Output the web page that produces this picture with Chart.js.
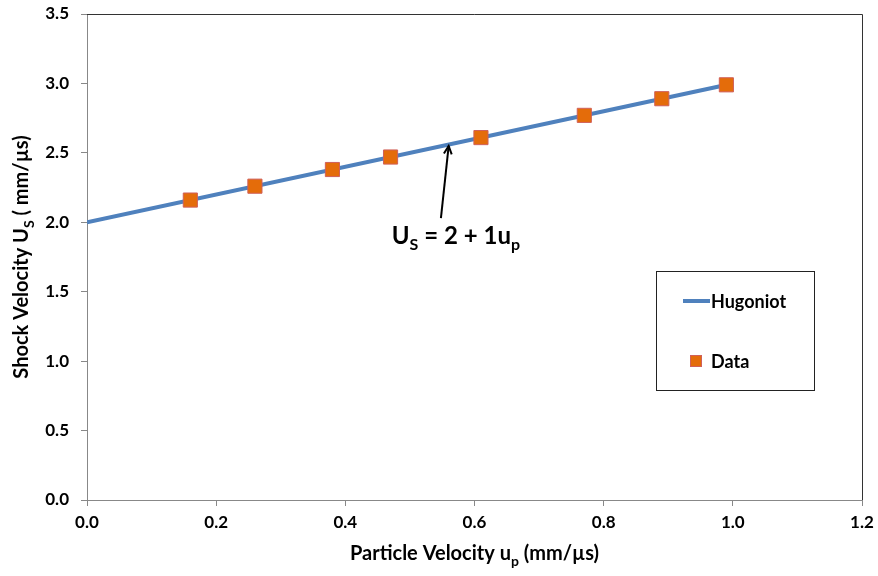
<!DOCTYPE html>
<html><head><meta charset="utf-8">
<script src="https://cdn.jsdelivr.net/npm/chart.js@4"></script>
<style>html,body{margin:0;padding:0;background:#fff}#wrap{width:878px;height:576px;position:relative}</style>
</head><body><div id="wrap"><canvas id="c" width="878" height="576"></canvas></div>
<script>
const xTicks = [0.0, 0.2, 0.4, 0.6, 0.8, 1.0, 1.2];
const yTicks = [0.0, 0.5, 1.0, 1.5, 2.0, 2.5, 3.0, 3.5];
const hugoniotX = [0.0, 1.0];
const hugoniotY = [2.0, 3.0];
const dataX = [0.16, 0.26, 0.38, 0.47, 0.61, 0.77, 0.89, 0.99];
const dataY = [2.16, 2.26, 2.38, 2.47, 2.61, 2.77, 2.89, 2.99];
const arrowTip = [0.56, 2.55];
const arrowBase = [0.548, 2.03];

const FONT = "Lato, 'Open Sans', sans-serif";
const BLUE = '#4F81BD';
const ORANGE = '#E46C0A';

function drawSub(ctx, parts, x, y, align) {
  let total = 0;
  const widths = parts.map(p => { ctx.font = p.sub ? p.subFont : p.font; const w = ctx.measureText(p.t).width; total += w; return w; });
  let cx = align === 'center' ? x - total / 2 : x;
  ctx.textAlign = 'left';
  ctx.textBaseline = 'alphabetic';
  parts.forEach((p, i) => {
    ctx.font = p.sub ? p.subFont : p.font;
    ctx.fillText(p.t, cx, y + (p.sub ? p.off : 0));
    cx += widths[i];
  });
}

const overlay = {
  id: 'overlay',
  beforeDatasetsDraw(chart) {
    const ctx = chart.ctx, a = chart.chartArea;
    ctx.save();
    ctx.strokeStyle = '#333';
    ctx.lineWidth = 1;
    ctx.beginPath();
    ctx.moveTo(a.left, a.top + 0.5); ctx.lineTo(a.right + 0.5, a.top + 0.5); ctx.lineTo(a.right + 0.5, a.bottom);
    ctx.stroke();
    ctx.restore();
  },
  afterDraw(chart) {
    const ctx = chart.ctx, a = chart.chartArea;
    const xs = chart.scales.x, ys = chart.scales.y;
    ctx.save();
    ctx.fillStyle = '#000';
    const f = "bold 20px " + FONT, fs = "bold 14px " + FONT;
    // x title
    drawSub(ctx, [
      {t: 'Particle Velocity u', font: f},
      {t: 'p', sub: true, subFont: fs, off: 6},
      {t: ' (mm/\u00b5s)', font: f}
    ], (a.left + a.right) / 2, 560, 'center');
    // y title
    ctx.save();
    ctx.translate(28, (a.top + a.bottom) / 2);
    ctx.rotate(-Math.PI / 2);
    drawSub(ctx, [
      {t: 'Shock Velocity U', font: f},
      {t: 'S', sub: true, subFont: fs, off: 6},
      {t: ' ( mm/\u00b5s)', font: f}
    ], 0, 0, 'center');
    ctx.restore();
    // arrow
    const tx = xs.getPixelForValue(arrowTip[0]), ty = ys.getPixelForValue(arrowTip[1]);
    const bx = xs.getPixelForValue(arrowBase[0]), by = ys.getPixelForValue(arrowBase[1]);
    ctx.strokeStyle = '#000'; ctx.lineWidth = 2;
    ctx.beginPath(); ctx.moveTo(bx, by); ctx.lineTo(tx, ty); ctx.stroke();
    const ang = Math.atan2(ty - by, tx - bx);
    ctx.beginPath();
    ctx.moveTo(tx - 9 * Math.cos(ang - 0.45), ty - 9 * Math.sin(ang - 0.45));
    ctx.lineTo(tx, ty);
    ctx.lineTo(tx - 9 * Math.cos(ang + 0.45), ty - 9 * Math.sin(ang + 0.45));
    ctx.stroke();
    // equation
    const ef = "bold 24px " + FONT, efs = "bold 16px " + FONT;
    drawSub(ctx, [
      {t: 'U', font: ef},
      {t: 'S', sub: true, subFont: efs, off: 6},
      {t: ' = 2 + 1u', font: ef},
      {t: 'p', sub: true, subFont: efs, off: 6}
    ], bx + 15, by + 26, 'center');
    // legend
    const lx = 656, ly = 271, lw = 158, lh = 119;
    ctx.strokeStyle = '#222'; ctx.lineWidth = 1;
    ctx.strokeRect(lx + 0.5, ly + 0.5, lw, lh);
    ctx.strokeStyle = BLUE; ctx.lineWidth = 4;
    ctx.beginPath(); ctx.moveTo(683, 301); ctx.lineTo(710, 301); ctx.stroke();
    ctx.font = "bold 18px " + FONT; ctx.fillStyle = '#000'; ctx.textBaseline = 'middle'; ctx.textAlign = 'left';
    ctx.fillText('Hugoniot', 711, 302);
    ctx.fillStyle = ORANGE; ctx.strokeStyle = '#D0605A'; ctx.lineWidth = 1;
    ctx.fillRect(690, 355, 12, 12); ctx.strokeRect(690.5, 355.5, 11, 11);
    ctx.fillStyle = '#000';
    ctx.fillText('Data', 711, 362);
    ctx.restore();
  }
};

new Chart(document.getElementById('c'), {
  type: 'scatter',
  data: {
    datasets: [
      {
        label: 'Data',
        data: dataX.map((x, i) => ({x, y: dataY[i]})),
        pointStyle: 'rect',
        pointRadius: 10,
        pointHoverRadius: 10,
        backgroundColor: ORANGE,
        borderColor: '#D0605A',
        borderWidth: 1,
        showLine: false,
        order: 0
      },
      {
        label: 'Hugoniot',
        data: hugoniotX.map((x, i) => ({x, y: hugoniotY[i]})),
        showLine: true,
        borderColor: BLUE,
        borderWidth: 4,
        pointRadius: 0,
        order: 1
      }
    ]
  },
  options: {
    responsive: false,
    animation: false,
    events: [],
    layout: {padding: {left: 0, top: 14, right: 16, bottom: 0}},
    plugins: {legend: {display: false}, tooltip: {enabled: false}},
    scales: {
      x: {
        type: 'linear', min: 0, max: 1.2,
        afterBuildTicks: s => { s.ticks = xTicks.map(v => ({value: v})); },
        afterFit: s => { s.height = 76; s.paddingLeft = 0; s.paddingRight = 0; },
        grid: {drawOnChartArea: false, drawTicks: true, tickLength: 6, color: '#888'},
        border: {color: '#888', width: 1},
        ticks: {color: '#000', font: {family: FONT, size: 17, weight: 'bold'}, padding: 6, maxRotation: 0,
          callback: v => Number(v).toFixed(1)}
      },
      y: {
        type: 'linear', min: 0, max: 3.5,
        afterBuildTicks: s => { s.ticks = yTicks.map(v => ({value: v})); },
        afterFit: s => { s.width = 87; s.paddingTop = 0; s.paddingBottom = 0; },
        grid: {drawOnChartArea: false, drawTicks: true, tickLength: 6, color: '#888'},
        border: {color: '#888', width: 1},
        ticks: {color: '#000', font: {family: FONT, size: 17, weight: 'bold'}, padding: 12,
          callback: v => Number(v).toFixed(1)}
      }
    }
  },
  plugins: [overlay]
});
</script></body></html>
